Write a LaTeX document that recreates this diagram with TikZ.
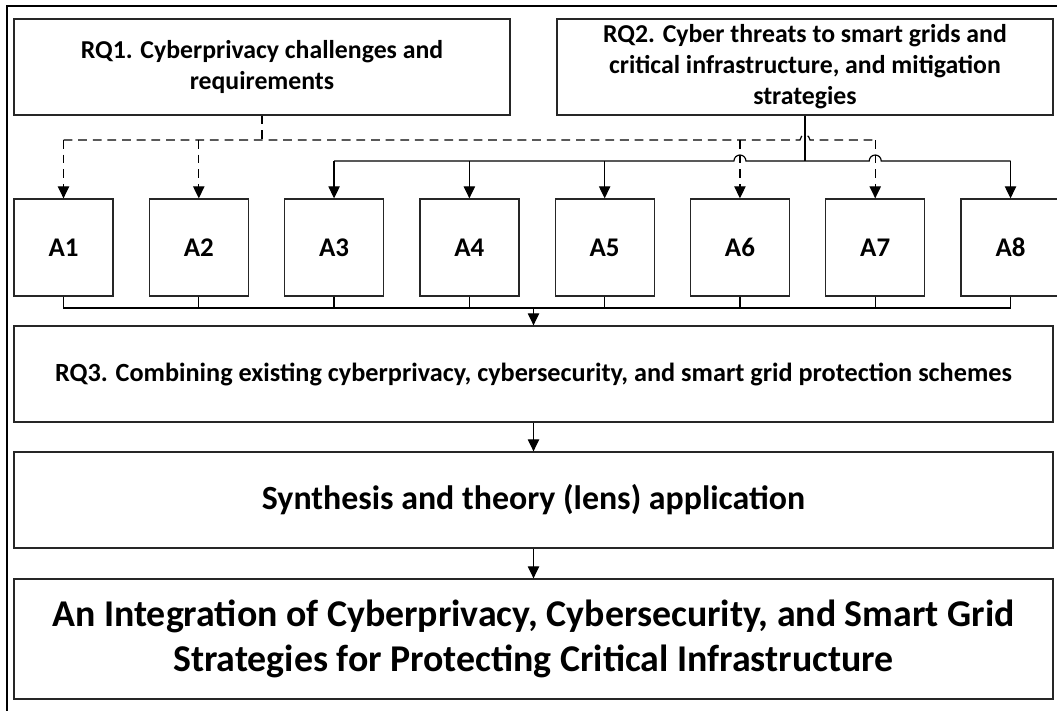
\documentclass[tikz,border=0pt]{standalone}
\usepackage{fontspec}
\setmainfont{Carlito}[Numbers=Lining]
\usetikzlibrary{calc,arrows.meta}

\begin{document}
\begin{tikzpicture}
\tikzstyle{plainbox}=[draw=black!85,line width=1.1pt,inner sep=0pt,align=center]
\tikzstyle{rqbox}=[plainbox,minimum width=14.88cm,minimum height=2.88cm,font=\bfseries\fontsize{22}{26.5}\selectfont]
\tikzstyle{abox}=[plainbox,minimum width=2.97cm,minimum height=2.91cm,font=\bfseries\fontsize{23}{27}\selectfont]
\tikzstyle{widebox}=[plainbox,minimum width=31.17cm,minimum height=2.88cm]
\tikzstyle{link}=[line width=1pt]
\tikzstyle{arr}=[link,-{Triangle[length=0.36cm,width=0.34cm]}]
\tikzstyle{dashlink}=[link,dash pattern=on 7.5pt off 5pt]

\useasboundingbox (0,0) rectangle (31.71,-21.33);
\draw [line width=1.7pt] (0.21,-21.5) -- (0.21,-0.17) -- (31.9,-0.17);

\node (RQ1) [rqbox] at (7.86,-2.01) {RQ1. Cyberprivacy challenges and\\requirements};
\node (RQ2) [rqbox] at (24.15,-2.01) {RQ2. Cyber threats to smart grids and\\critical infrastructure, and mitigation\\strategies};

\node (A1) [abox] at (1.905,-7.425) {A1};
\node (A2) at (A1.east) [abox,anchor=west,xshift=1.05cm] {A2};
\node (A3) at (A2.east) [abox,anchor=west,xshift=1.05cm] {A3};
\node (A4) at (A3.east) [abox,anchor=west,xshift=1.05cm] {A4};
\node (A5) at (A4.east) [abox,anchor=west,xshift=1.05cm] {A5};
\node (A6) at (A5.east) [abox,anchor=west,xshift=1.05cm] {A6};
\node (A7) at (A6.east) [abox,anchor=west,xshift=1.05cm] {A7};
\node (A8) at (A7.east) [abox,anchor=west,xshift=1.05cm] {A8};

\node (RQ3) [widebox,font=\bfseries\fontsize{22.4}{26}\selectfont] at (16.005,-11.22) {RQ3. Combining existing cyberprivacy, cybersecurity, and smart grid protection schemes};
\node (SYN) [widebox,font=\bfseries\fontsize{28.9}{33}\selectfont] at (16.005,-15.0) {Synthesis and theory (lens) application};
\node (GOAL) [widebox,minimum height=3.6cm,font=\bfseries\fontsize{32.3}{38.5}\selectfont] at (16.005,-19.17) {An Integration of Cyberprivacy, Cybersecurity, and Smart Grid\\Strategies for Protecting Critical Infrastructure};

\coordinate (dashy) at (0,-4.2);
\coordinate (solidy) at (0,-4.83);
\coordinate (busy) at (0,-9.24);

% RQ1 -> A1, A2, A6, A7
\draw [dashlink] (RQ1.south) -- (RQ1.south |- dashy);
\draw [dashlink] (A1.north |- dashy) -- ($(RQ2.south |- dashy)+(-0.15,0)$) arc (180:0:0.15) -- (A7.north |- dashy);
\draw [dashlink,arr] (A1.north |- dashy) -- (A1.north);
\draw [dashlink,arr] (A2.north |- dashy) -- (A2.north);
\draw [dashlink,arr] (A6.north |- dashy) -- (A6.north);
\draw [dashlink,arr] (A7.north |- dashy) -- (A7.north);

% RQ2 -> A3, A4, A5, A8
\draw [link] (RQ2.south) -- (RQ2.south |- solidy);
\draw [link] (A3.north |- solidy) -- ($(A6.north |- solidy)+(-0.18,0)$) arc (180:0:0.18) -- ($(A7.north |- solidy)+(-0.18,0)$) arc (180:0:0.18) -- (A8.north |- solidy);
\draw [arr] (A3.north |- solidy) -- (A3.north);
\draw [arr] (A4.north |- solidy) -- (A4.north);
\draw [arr] (A5.north |- solidy) -- (A5.north);
\draw [arr] (A8.north |- solidy) -- (A8.north);

% A1..A8 -> RQ3
\draw [link] (A1.south) -- (A1.south |- busy) -- (A8.south |- busy) -- (A8.south);
\draw [link] (A2.south) -- (A2.south |- busy);
\draw [link] (A3.south) -- (A3.south |- busy);
\draw [link] (A4.south) -- (A4.south |- busy);
\draw [link] (A5.south) -- (A5.south |- busy);
\draw [link] (A6.south) -- (A6.south |- busy);
\draw [link] (A7.south) -- (A7.south |- busy);
\draw [arr] (RQ3.north |- busy) -- (RQ3.north);

\draw [arr] (RQ3.south) -- (SYN.north);
\draw [arr] (SYN.south) -- (GOAL.north);

\end{tikzpicture}
\end{document}
